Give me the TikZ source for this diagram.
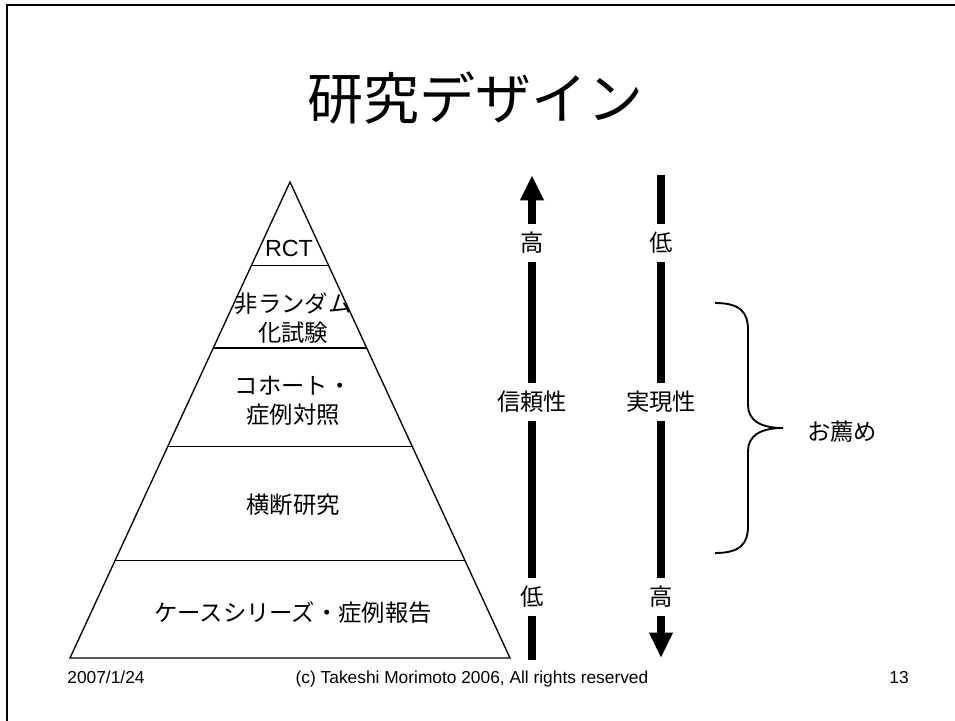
\documentclass[tikz,border=0pt]{standalone}
\usepackage{fontspec}
\setmainfont{Liberation Sans}
\newfontfamily\jp{Noto Sans CJK JP}
\usetikzlibrary{arrows.meta,calc}

\tikzset{
  layer/.style={font=\jp\fontsize{17.5}{22}\selectfont, align=center},
  scalelabel/.style={font=\jp\fontsize{17.5}{22}\selectfont, fill=white, inner xsep=2pt, inner ysep=6pt},
  footer/.style={font=\fontsize{13}{15}\selectfont, anchor=base},
  bar/.style={line width=6pt, -{Triangle[width=16.5pt,length=19pt]}}
}

\begin{document}
\begin{tikzpicture}[x=0.75pt,y=-0.75pt]
    \useasboundingbox (0,0) rectangle (955,720);
    \clip (0,0) rectangle (955,720);
    %% Draw the slide frame and the title
    \draw[line width=1.5pt] (7,5) rectangle (980,740);
    \node (title) at (475,98) {\jp\fontsize{42}{50}\selectfont 研究デザイン};
    %% Draw the pyramid
    \coordinate (apex) at (290,182);
    \coordinate (bl) at (70,658);
    \coordinate (br) at (510,658);
    \draw[line width=1pt] (apex) -- (bl) -- (br) -- cycle;
    \foreach \f in {0.176,0.349,0.556,0.795}
      \draw[line width=1pt] ($(apex)!\f!(bl)$) -- ($(apex)!\f!(br)$);
    %% Draw the layer names
    \node[layer, font=\fontsize{17.5}{22}\selectfont] (rct) at (289,248) {RCT};
    \node[layer] (nonrand) at (293,318) {非ランダム\\化試験};
    \node[layer] (cohort) at (293,401) {コホート・\\症例対照};
    \node[layer] (cross) at (293,505) {横断研究};
    \node[layer] (cases) at (293,613) {ケースシリーズ・症例報告};
    %% Draw the two scales
    \coordinate (rellow) at (532,660);
    \coordinate (relhigh) at (532,175);
    \coordinate (fealow) at (661,175);
    \coordinate (feahigh) at (661,658);
    \draw[bar] (rellow) -- (relhigh);
    \draw[bar] (fealow) -- (feahigh);
    \node[scalelabel] (relhi) at (532,243) {高};
    \node[scalelabel] (rel) at (532,402) {信頼性};
    \node[scalelabel] (rello) at (532,597) {低};
    \node[scalelabel] (feahi) at (661,243) {低};
    \node[scalelabel] (fea) at (661,402) {実現性};
    \node[scalelabel] (fealo) at (661,597) {高};
    %% Draw the brace
    \coordinate (brtop) at (715,303);
    \coordinate (brtip) at (783,428);
    \coordinate (brbot) at (715,553);
    \node[layer] (reco) at (842,432) {お薦め};
    \draw[line width=1.4pt] (brtop) .. controls (740,303) and (748,312) .. (748,330)
      -- (748,405) .. controls (748,420) and (760,428) .. (brtip)
      .. controls (760,428) and (748,436) .. (748,451)
      -- (748,526) .. controls (748,544) and (740,553) .. (brbot);
    %% Draw the footer
    \node[footer] (date) at (106,683) {2007/1/24};
    \node[footer] (copy) at (472,683) {(c) Takeshi Morimoto 2006, All rights reserved};
    \node[footer] (page) at (899,683) {13};
\end{tikzpicture}
\end{document}
